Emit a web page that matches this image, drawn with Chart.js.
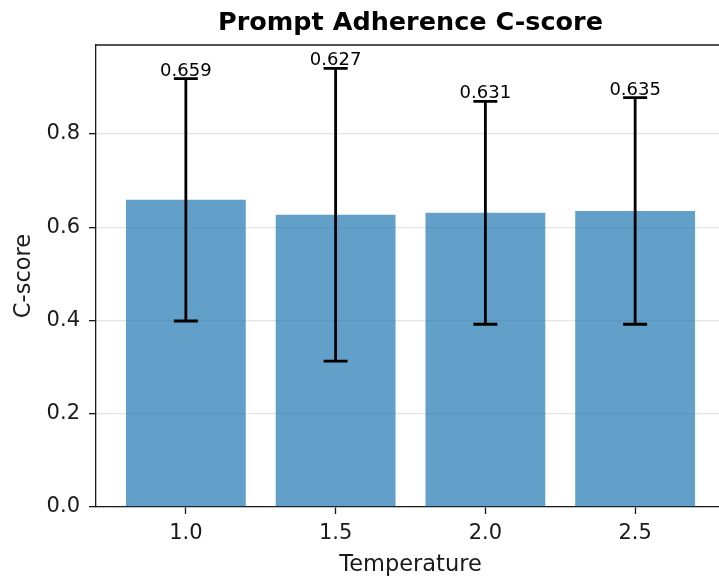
<!DOCTYPE html>
<html>
<head>
<meta charset="utf-8">
<script src="https://cdn.jsdelivr.net/npm/chart.js@4.4.1/dist/chart.umd.min.js"></script>
<style>
  html, body { margin: 0; padding: 0; background: #fff; overflow: hidden; }
</style>
</head>
<body>
<canvas id="myChart" width="725" height="579"></canvas>
<script>
const temps = ['1.0', '1.5', '2.0', '2.5'];
const means = [0.659, 0.627, 0.631, 0.635];
const stds = [0.260, 0.314, 0.239, 0.243];
const yTicks = [0.0, 0.2, 0.4, 0.6, 0.8];

const font = 'DejaVu Sans';
const ink = '#1a1a1a';

// error bars + value labels, drawn through the chart scales
const errorBars = {
  id: 'errorBars',
  afterDatasetsDraw(chart) {
    const ctx = chart.ctx;
    const meta = chart.getDatasetMeta(0);
    const y = chart.scales.y;
    ctx.save();
    ctx.strokeStyle = '#000';
    ctx.lineWidth = 2.8;
    meta.data.forEach((bar, i) => {
      const top = y.getPixelForValue(means[i] + stds[i]);
      const bot = y.getPixelForValue(means[i] - stds[i]);
      ctx.beginPath();
      ctx.moveTo(bar.x, top);
      ctx.lineTo(bar.x, bot);
      ctx.moveTo(bar.x - 12, top);
      ctx.lineTo(bar.x + 12, top);
      ctx.moveTo(bar.x - 12, bot);
      ctx.lineTo(bar.x + 12, bot);
      ctx.stroke();
      ctx.fillStyle = '#000';
      ctx.font = '18px "' + font + '"';
      ctx.textAlign = 'center';
      ctx.textBaseline = 'alphabetic';
      ctx.fillText(means[i].toFixed(3), bar.x, top - 3);
    });
    ctx.restore();
  }
};

// top spine (matplotlib box)
const topSpine = {
  id: 'topSpine',
  afterDraw(chart) {
    const {ctx, chartArea} = chart;
    ctx.save();
    ctx.strokeStyle = ink;
    ctx.lineWidth = 1.3;
    ctx.beginPath();
    ctx.moveTo(chartArea.left, chartArea.top);
    ctx.lineTo(chartArea.right, chartArea.top);
    ctx.stroke();
    ctx.restore();
  }
};

const myChart = new Chart(document.getElementById('myChart'), {
  type: 'bar',
  data: {
    datasets: [{
      data: means.map((m, i) => ({x: i, y: m})),
      backgroundColor: 'rgba(31,119,180,0.7)',
      borderWidth: 0,
      categoryPercentage: 1.0,
      barPercentage: 0.8
    }]
  },
  options: {
    responsive: false,
    animation: false,
    layout: { padding: 0 },
    scales: {
      x: {
        type: 'linear',
        min: -0.6,
        max: 3.6,
        offset: false,
        grid: { drawOnChartArea: false, offset: false, tickLength: 7, tickColor: ink, tickWidth: 1.3 },
        border: { display: true, color: ink, width: 1.3 },
        afterBuildTicks: (scale) => { scale.ticks = temps.map((t, i) => ({value: i})); },
        afterFit: (scale) => { scale.height = 72; },
        ticks: {
          callback: (v) => temps[v],
          color: ink,
          padding: 7,
          maxRotation: 0,
          font: { family: font, size: 21 }
        },
        title: {
          display: true,
          text: 'Temperature',
          color: ink,
          padding: { top: 0, bottom: 0 },
          font: { family: font, size: 22.5 }
        }
      },
      y: {
        min: 0,
        max: 0.991,
        grid: { color: '#e3e3e3', lineWidth: 1.3, tickLength: 7, tickColor: ink, tickWidth: 1.3 },
        border: { display: true, color: ink, width: 1.3 },
        afterBuildTicks: (scale) => { scale.ticks = yTicks.map(v => ({value: v})); },
        afterFit: (scale) => { scale.width = 96; },
        ticks: {
          callback: (v) => v.toFixed(1),
          color: ink,
          padding: 9,
          font: { family: font, size: 21 }
        },
        title: {
          display: true,
          text: 'C-score',
          color: ink,
          padding: { top: 11, bottom: 0 },
          font: { family: font, size: 22.5 }
        }
      }
    },
    plugins: {
      legend: { display: false },
      tooltip: { enabled: false },
      title: {
        display: true,
        fullSize: false,
        text: 'Prompt Adherence C-score',
        color: '#000',
        padding: { top: 8, bottom: 6.4 },
        font: { family: font, size: 25.5, weight: 'bold' }
      }
    }
  },
  plugins: [errorBars, topSpine]
});
</script>
</body>
</html>
